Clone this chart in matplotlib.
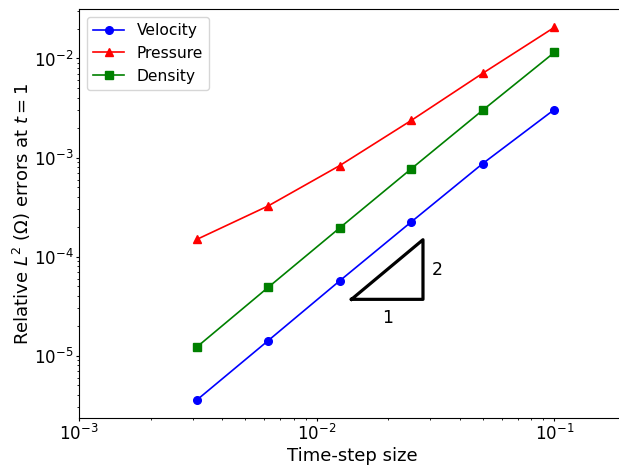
import matplotlib
matplotlib.use("Agg")
import matplotlib.pyplot as plt

# time-step sizes and relative L2 errors
dt = [0.1, 0.05, 0.025, 0.0125, 0.00625, 0.003125]
velocity = [3.05e-3, 8.7e-4, 2.24e-4, 5.7e-5, 1.42e-5, 3.56e-6]
pressure = [2.06e-2, 7.1e-3, 2.37e-3, 8.3e-4, 3.25e-4, 1.49e-4]
density = [1.15e-2, 3.01e-3, 7.7e-4, 1.95e-4, 4.9e-5, 1.22e-5]

# slope-2 reference triangle
tri_x = [0.014, 0.028, 0.028, 0.014]
tri_y = [3.7e-5, 3.7e-5, 1.48e-4, 3.7e-5]

fig = plt.figure(figsize=(6.19, 4.66), dpi=100)
ax = fig.add_axes([0.128, 0.1024, 0.883, 0.878])

ax.loglog(dt, velocity, "b-o", lw=1.2, ms=5.5, label="Velocity")
ax.loglog(dt, pressure, "r-^", lw=1.2, ms=5.5, label="Pressure")
ax.loglog(dt, density, "g-s", lw=1.2, ms=5.5, label="Density")

ax.plot(tri_x, tri_y, "k-", lw=2.3)
ax.text(0.0198, 2.4e-5, "1", fontsize=12.5, ha="center", va="center")
ax.text(0.0305, 7.4e-5, "2", fontsize=12.5, ha="left", va="center")

ax.set_xlim(1e-3, 0.2)
ax.set_ylim(2.33e-6, 3.15e-2)
ax.tick_params(which="major", labelsize=12, length=2.5, pad=1.5)
ax.tick_params(which="minor", length=1.5)
ax.set_xlabel("Time-step size", fontsize=13, labelpad=2)
ax.set_ylabel(r"Relative $L^2$ $(\Omega)$ errors at $t=1$", fontsize=13, labelpad=1)
ax.legend(loc="upper left", fontsize=11.2)

fig.savefig("out.png", dpi=100)
